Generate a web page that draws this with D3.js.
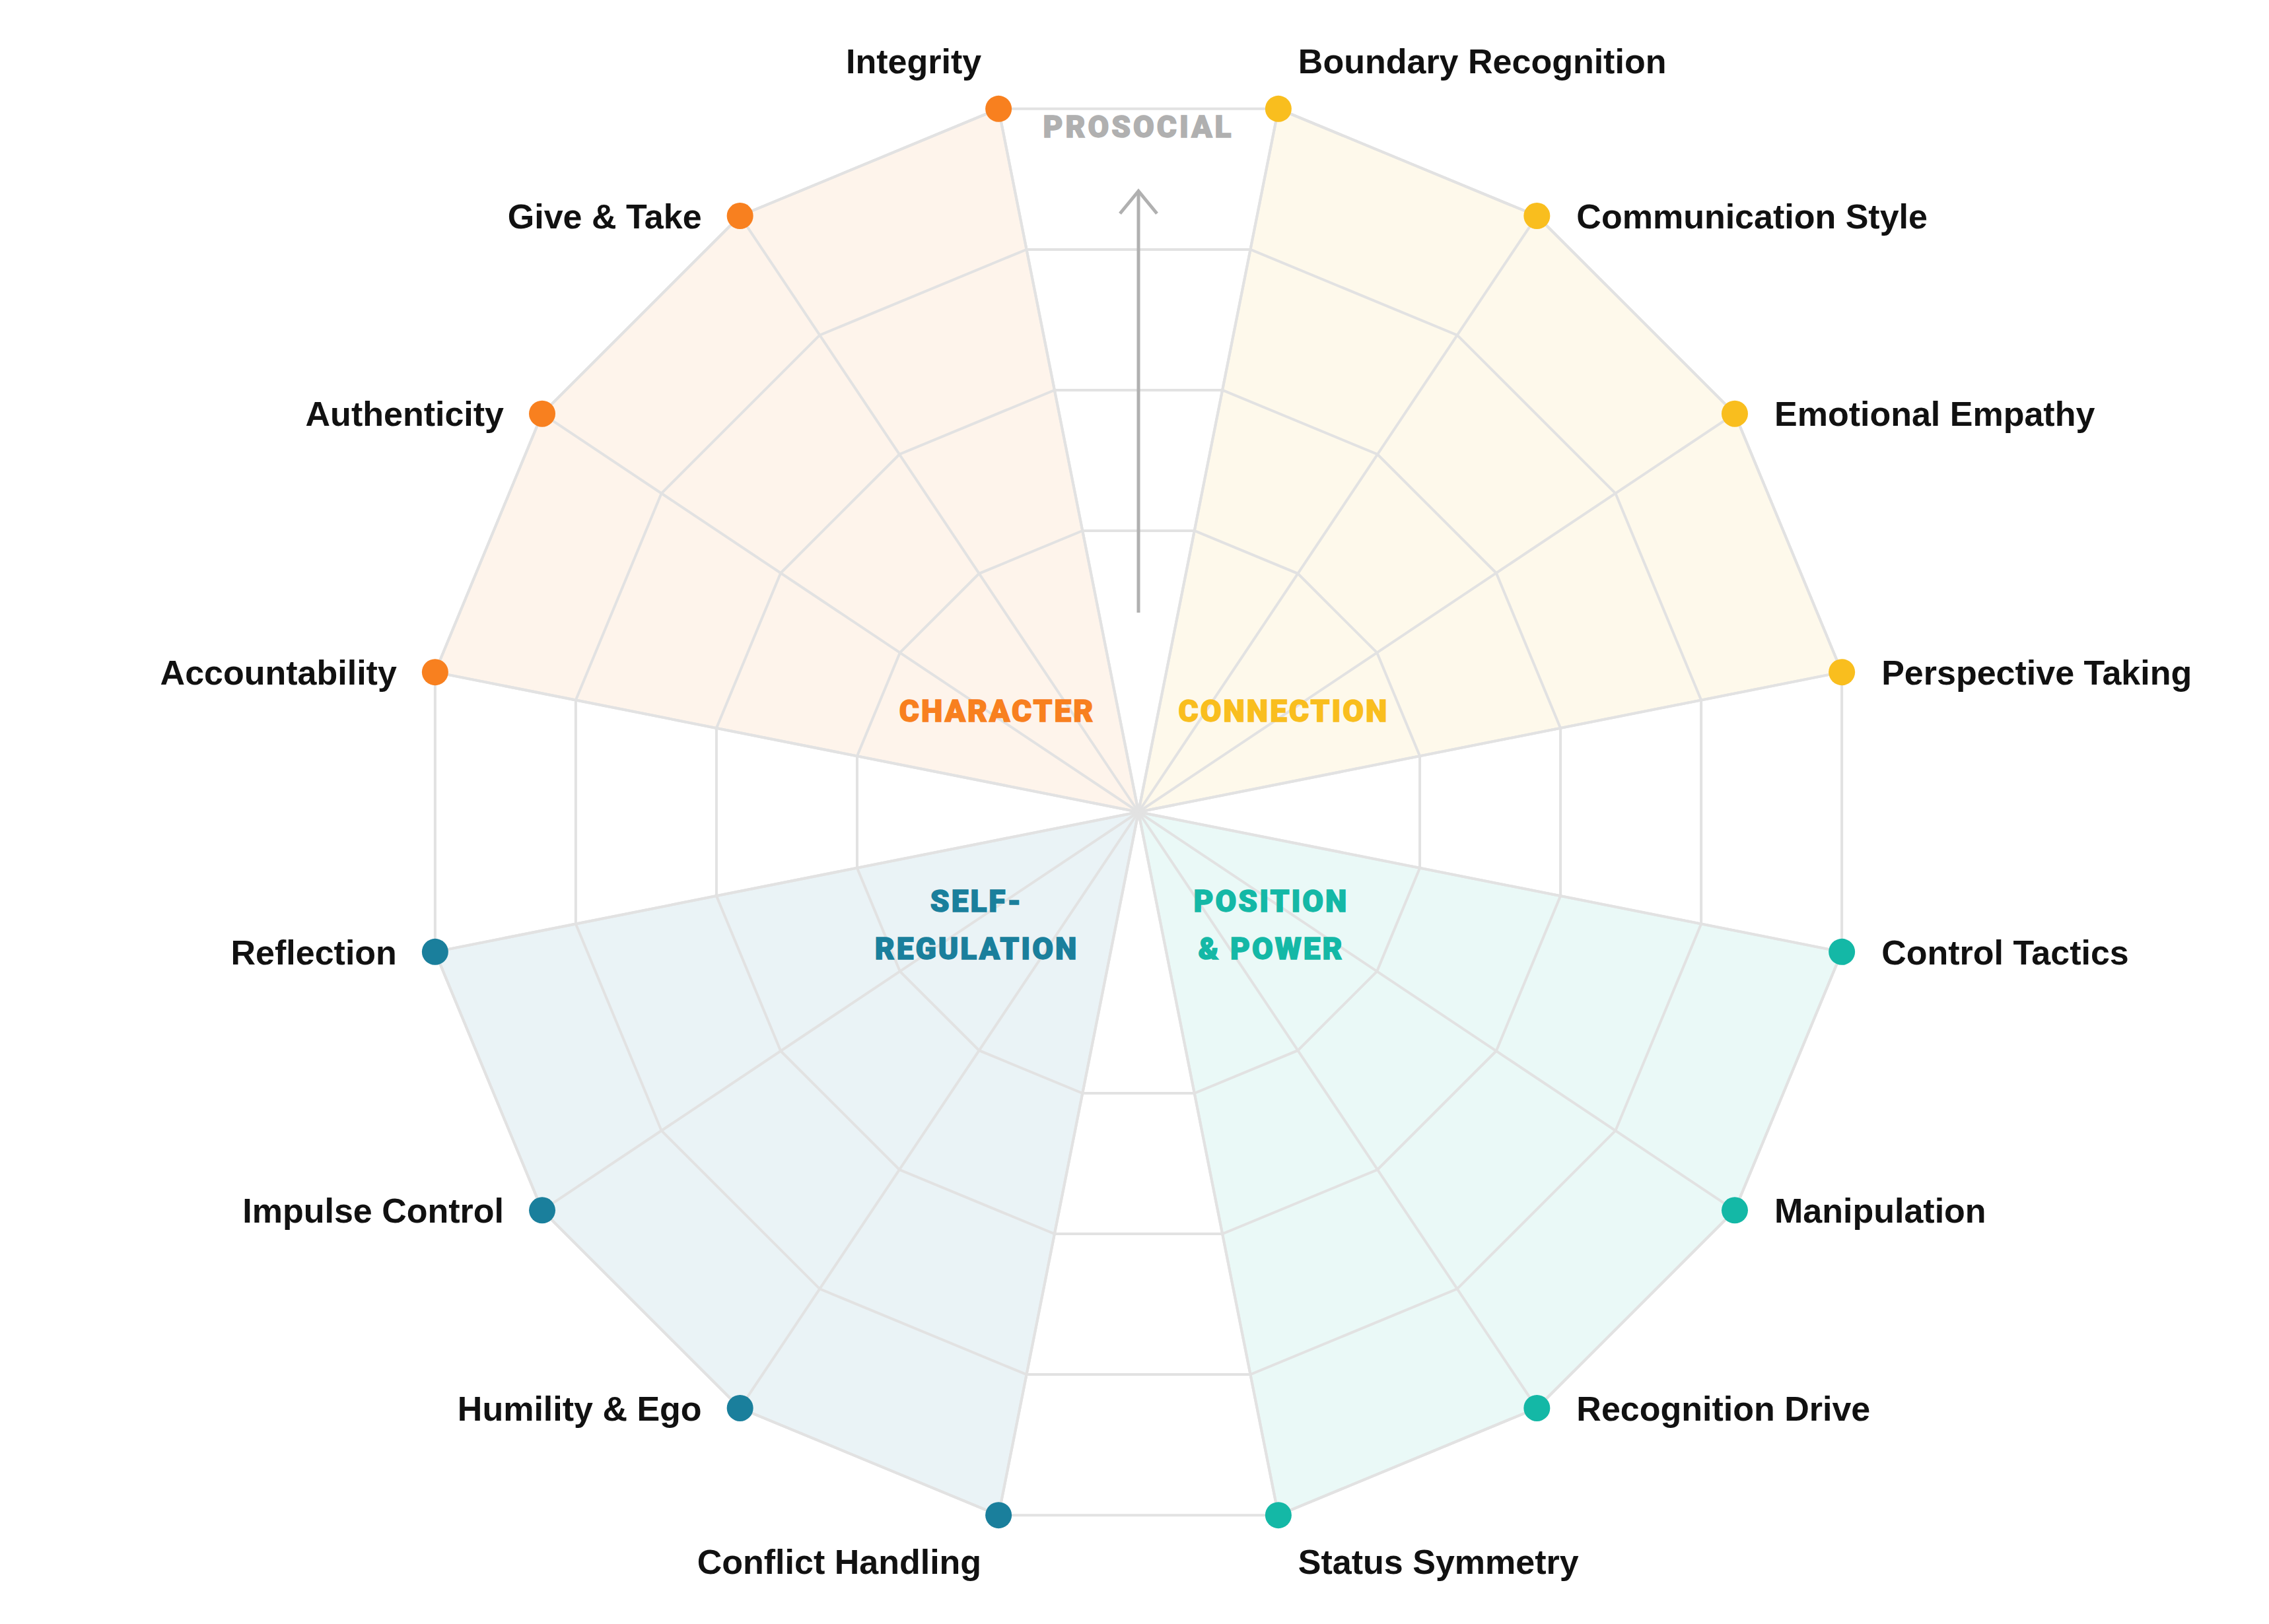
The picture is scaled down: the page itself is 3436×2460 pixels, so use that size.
<!DOCTYPE html>
<html><head><meta charset="utf-8">
<script src="https://cdn.jsdelivr.net/npm/d3@7"></script>
<style>body{margin:0;background:#fff}</style></head>
<body><svg id="c" width="3436" height="2460"></svg>
<script>
const axes = ["Boundary Recognition","Communication Style","Emotional Empathy","Perspective Taking",
  "Control Tactics","Manipulation","Recognition Drive","Status Symmetry",
  "Conflict Handling","Humility & Ego","Impulse Control","Reflection",
  "Accountability","Authenticity","Give & Take","Integrity"];
const values = [5,5,5,5, 5,5,5,5, 5,5,5,5, 5,5,5,5];
const groups = ["CONNECTION","POSITION & POWER","SELF-REGULATION","CHARACTER"];
const groupColors = ["#F9BE1E","#14B8A6","#1A7F9C","#F8801F"];
const levels = [2,3,4,5];

const svg = d3.select("#c");
const cx = 1724, cy = 1230, R = 1086;
const r = d3.scaleLinear().domain([0,5]).range([0,R]);
const ang = d3.scaleLinear().domain([0,16]).range([Math.PI/16, Math.PI/16 + 2*Math.PI]);
const pt = (i,v)=>[cx + r(v)*Math.sin(ang(i)), cy - r(v)*Math.cos(ang(i))];
const g = svg.append("g");
const LF = "'Liberation Sans', Arial, Helvetica, sans-serif";

groups.forEach((name,q)=>{
  const pts=[[cx,cy]]; for(let k=0;k<4;k++){const i=q*4+k; pts.push(pt(i,values[i]));}
  g.append("path").attr("d",d3.line()(pts)+"Z").attr("fill",groupColors[q]).attr("fill-opacity",0.09)
   .attr("stroke","#e2e2e2").attr("stroke-width",4);
});
levels.forEach(l=>{
  const pts=d3.range(16).map(i=>pt(i,l));
  g.append("path").attr("d",d3.line()(pts)+"Z").attr("fill","none").attr("stroke","#e2e2e2").attr("stroke-width",4);
});
d3.range(16).forEach(i=>{
  const p=pt(i,5);
  g.append("line").attr("x1",cx).attr("y1",cy).attr("x2",p[0]).attr("y2",p[1]).attr("stroke","#e2e2e2").attr("stroke-width",4);
});
const a0=r(1.39), a1=r(4.33);
g.append("line").attr("x1",cx).attr("y1",cy-a0).attr("x2",cx).attr("y2",cy-a1).attr("stroke","#b0b0b0").attr("stroke-width",5);
g.append("path").attr("d",`M${cx-28},${cy-a1+34}L${cx},${cy-a1}L${cx+28},${cy-a1+34}`).attr("fill","none").attr("stroke","#b0b0b0").attr("stroke-width",5);
g.append("text").attr("x",cx).attr("y",cy-r(4.78)+16).attr("text-anchor","middle").attr("font-family","Roboto").attr("font-weight",900)
 .attr("font-size",46).attr("letter-spacing",4).attr("fill","#b0b0b0").attr("stroke","#b0b0b0").attr("stroke-width",1.5).text("PROSOCIAL");

d3.range(16).forEach(i=>{
  const p=pt(i,values[i]); const q=Math.floor(i/4);
  g.append("circle").attr("cx",p[0]).attr("cy",p[1]).attr("r",20).attr("fill",groupColors[q]);
  const right = p[0]>cx;
  let x,y,anchor;
  const top = i===0||i===15, bottom = i===7||i===8;
  if(top||bottom){ x = p[0] + (right?30:-26); y = p[1] + (top?-73:70); anchor = right?"start":"end"; }
  else { x = p[0] + (right?60:-58); y = p[1]; anchor = right?"start":"end"; }
  g.append("text").attr("x",x).attr("y",y).attr("dy","0.36em").attr("text-anchor",anchor)
   .attr("font-family",LF).attr("font-weight","bold").attr("font-size",52).attr("fill","#111").text(axes[i]);
});

const glab = [[1944,1076,["CONNECTION"]],[1925,1364,["POSITION","& POWER"]],[1479,1364,["SELF-","REGULATION"]],[1510,1076,["CHARACTER"]]];
glab.forEach((d,q)=>{
  d[2].forEach((t,j)=>{
    g.append("text").attr("x",d[0]).attr("y",d[1]+j*72).attr("dy","0.36em").attr("text-anchor","middle")
     .attr("font-family","Roboto").attr("font-weight",900).attr("font-size",46).attr("letter-spacing",3)
     .attr("fill",groupColors[q]).attr("stroke",groupColors[q]).attr("stroke-width",1.5).text(t);
  });
});
</script></body></html>
